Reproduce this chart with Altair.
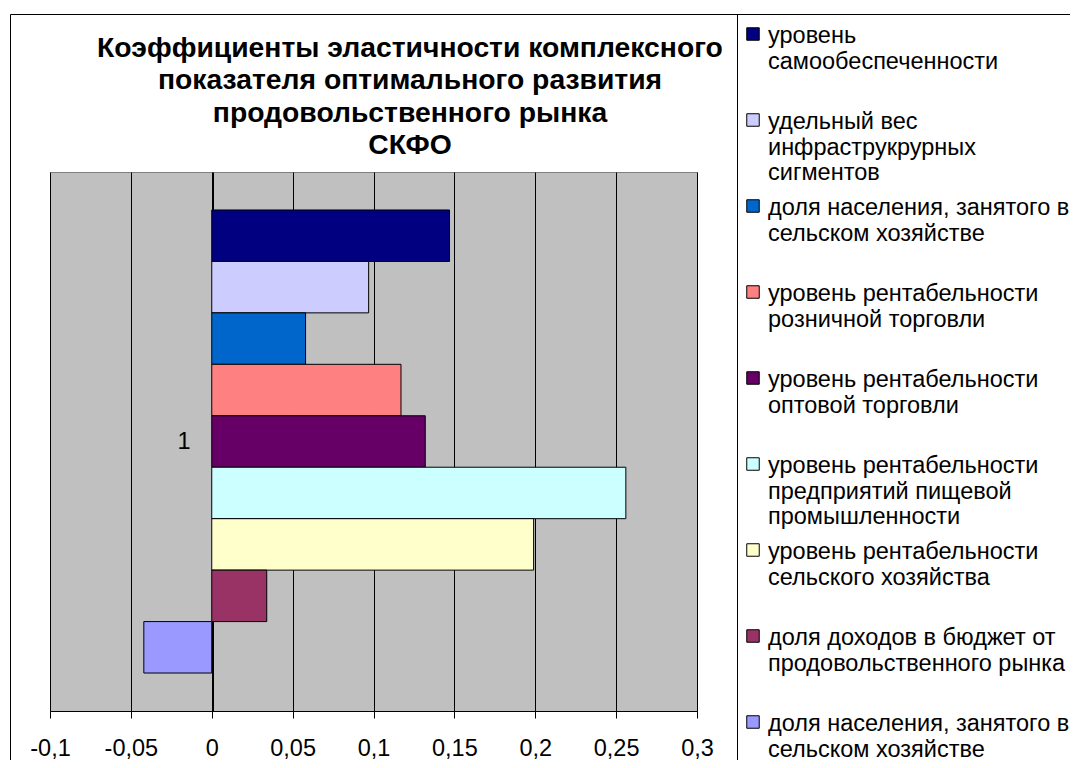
import altair as alt
import pandas as pd

# ---- data ----
category = "1"
series_labels = [
    "уровень\nсамообеспеченности",
    "удельный вес\nинфраструкрурных\nсигментов",
    "доля населения, занятого в\nсельском хозяйстве",
    "уровень рентабельности\nрозничной торговли",
    "уровень рентабельности\nоптовой торговли",
    "уровень рентабельности\nпредприятий пищевой\nпромышленности",
    "уровень рентабельности\nсельского хозяйства",
    "доля доходов в бюджет от\nпродовольственного рынка",
    "доля населения, занятого в\nсельском хозяйстве",
]
values = [0.147, 0.097, 0.058, 0.117, 0.132, 0.256, 0.199, 0.034, -0.042]
colors = ["#000080", "#CCCCFF", "#0066CC", "#FF8080", "#660066",
          "#CCFFFF", "#FFFFCC", "#993366", "#9999FF"]
title_lines = [
    "Коэффициенты эластичности комплексного",
    "показателя оптимального развития",
    "продовольственного рынка",
    "СКФО",
]
x_ticks = [-0.1, -0.05, 0, 0.05, 0.1, 0.15, 0.2, 0.25, 0.3]

keys = [f"s{i + 1}" for i in range(len(values))]
df = pd.DataFrame({
    "cat": [category] * len(values),
    "key": keys,
    "idx": list(range(len(values))),
    "value": values,
    "label": series_labels,
})
one = pd.DataFrame({"a": [0]})
title_df = pd.DataFrame({"t": ["\n".join(title_lines)]})

FONT = "Liberation Sans"

color = alt.Color("key:N", scale=alt.Scale(domain=keys, range=colors), legend=None)

bars = alt.Chart(df).mark_bar(stroke="black", strokeWidth=1).encode(
    x=alt.X(
        "value:Q",
        scale=alt.Scale(domain=[-0.1, 0.3], nice=False, zero=False),
        axis=alt.Axis(
            values=x_ticks,
            labelExpr="replace(toString(datum.value), '.', ',')",
            title=None, grid=True, gridColor="black", gridWidth=1,
            domainColor="black", tickColor="black", tickSize=7,
            labelFontSize=23.5, labelFont=FONT, labelColor="black",
            labelPadding=18, labelFlush=False, labelOverlap=False,
        ),
    ),
    y=alt.Y(
        "cat:N",
        scale=alt.Scale(paddingOuter=0.082, paddingInner=0),
        axis=alt.Axis(
            title=None, offset=-163, ticks=False, domainColor="black",
            labelFontSize=23.5, labelFont=FONT, labelColor="black",
            labelPadding=23, grid=False,
        ),
    ),
    yOffset=alt.YOffset("key:N", sort=keys,
                        scale=alt.Scale(paddingInner=0, paddingOuter=0)),
    color=color,
)

leg_y = alt.Y("idx:Q", scale=alt.Scale(domain=[0, 8], range=[-138, 550]), axis=None)

leg_sq = alt.Chart(df).mark_square(
    size=156, stroke="black", strokeWidth=1, opacity=1, filled=True
).encode(x=alt.value(703), y=leg_y, color=color)

leg_tx = alt.Chart(df).mark_text(
    align="left", baseline="top", dy=-10, fontSize=23.5, font=FONT,
    lineBreak="\n", lineHeight=25.5, color="black",
).encode(x=alt.value(718), y=leg_y, text="label:N")

title = alt.Chart(title_df).mark_text(
    align="center", baseline="top", fontSize=28.3, font=FONT, fontWeight="bold",
    lineBreak="\n", lineHeight=32.5, color="black",
).encode(x=alt.value(360), y=alt.value(-137.5), text="t:N")

frame_left = alt.Chart(one).mark_rule(color="black", strokeWidth=1).encode(
    x=alt.value(-39.5), y=alt.value(-157.5), y2=alt.value(600))
frame_top = alt.Chart(one).mark_rule(color="black", strokeWidth=1).encode(
    x=alt.value(-39.5), x2=alt.value(1040), y=alt.value(-157.5))
legend_left = alt.Chart(one).mark_rule(color="black", strokeWidth=1).encode(
    x=alt.value(687.5), y=alt.value(-157.5), y2=alt.value(600))

chart = alt.layer(
    bars, leg_sq, leg_tx, title, frame_left, frame_top, legend_left
).resolve_scale(
    y="independent"
).properties(
    width=647,
    height=539,
    autosize=alt.AutoSizeParams(type="none"),
    padding={"left": 42, "top": 164, "right": 373, "bottom": 49},
    background="white",
).configure_view(
    fill="#c0c0c0", stroke="#808080", strokeWidth=1
)

chart.save("out.html", embed_options={"renderer": "svg", "actions": False})
